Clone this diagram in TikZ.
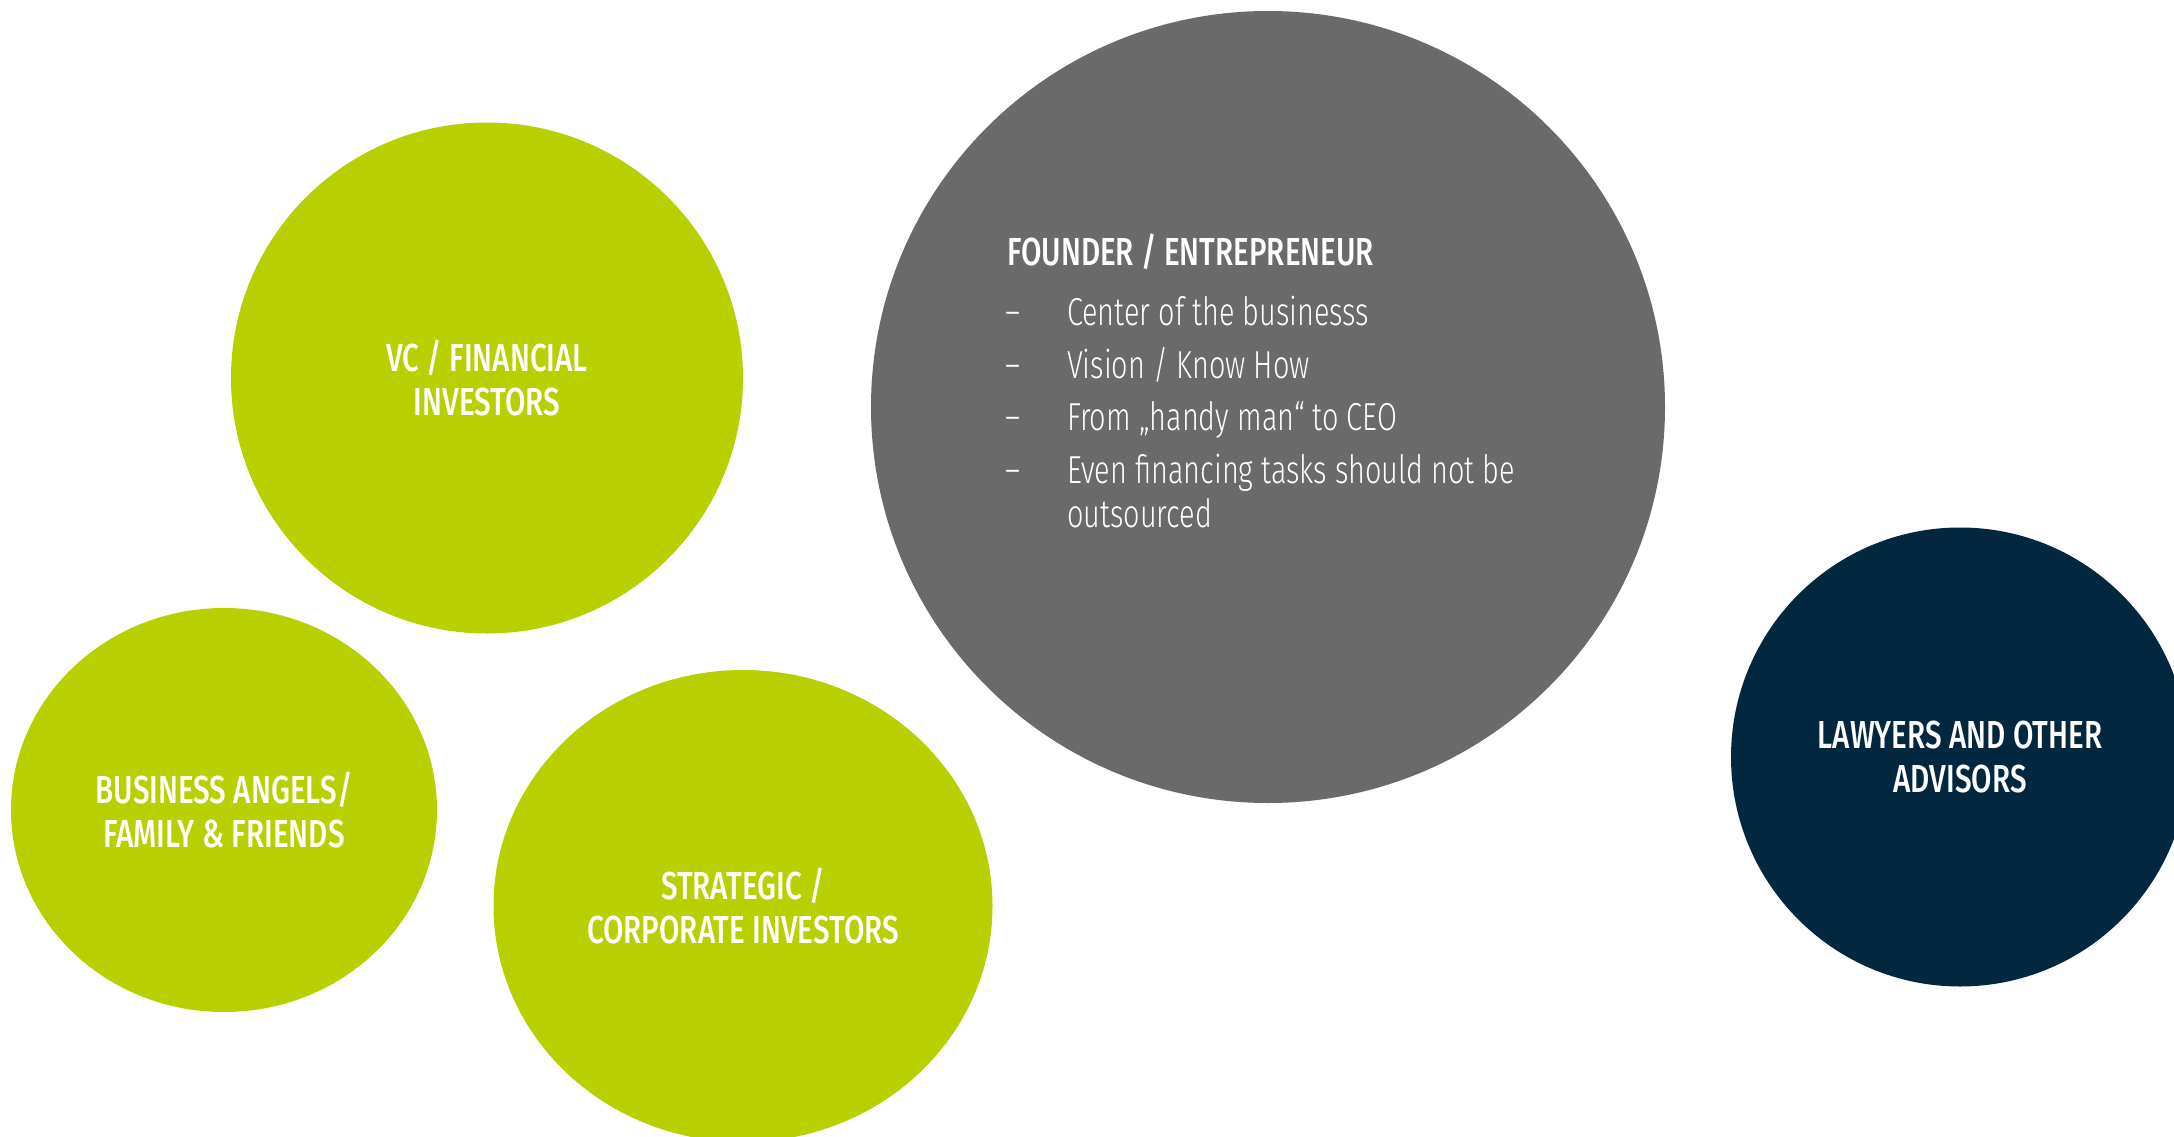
\documentclass[tikz,border=0pt]{standalone}
\usepackage{fontspec}
\setmainfont{Fira Sans Light}[FakeStretch=0.74,
  BoldFont={Fira Sans Medium}, BoldFeatures={FakeStretch=0.76}]
\usetikzlibrary{shapes.geometric}

\definecolor{lime}{HTML}{B8CF00}
\definecolor{slate}{HTML}{6A6A6A}
\definecolor{navy}{HTML}{02273E}

\newcommand{\bigtype}{\fontsize{39}{44}\selectfont}

\begin{document}
\begin{tikzpicture}[x=1pt, y=-1pt,
  bubble/.style={ellipse, inner sep=0pt, draw=none, text=white, align=center,
                 font=\bigtype\bfseries},
  limebubble/.style={bubble, fill=lime},
  line/.style={anchor=base west, inner sep=0pt, text=white, font=\bigtype},
  head/.style={line, font=\bigtype\bfseries}]

\useasboundingbox (0,0) rectangle (2174,1137);
\fill[white] (0,0) rectangle (2174,1137);

% central founder circle
\node[bubble, fill=slate, minimum width=794pt, minimum height=792pt] (founder) at (1268,407) {};

% investor circles
\node[limebubble, minimum width=512pt, minimum height=511pt] (vc) at (487,378)
  {VC / FINANCIAL\\INVESTORS};
\node[limebubble, minimum width=426pt, minimum height=404pt] (angels) at (224,810)
  {BUSINESS ANGELS/\\FAMILY \& FRIENDS};
\node[limebubble, minimum width=499pt, minimum height=472pt] (strategic) at (743,906)
  {STRATEGIC /\\CORPORATE INVESTORS};

% advisors circle
\node[bubble, fill=navy, minimum width=458pt, minimum height=459pt] (advisors) at (1960,757)
  {LAWYERS AND OTHER\\ADVISORS};

% founder description
\node[head] (ftitle) at (1007,265) {FOUNDER / ENTREPRENEUR};
\node[line] (d1) at (1005,325) {\textendash};
\node[line] (b1) at (1067,325) {Center of the businesss};
\node[line] (d2) at (1005,378) {\textendash};
\node[line] (b2) at (1067,378) {Vision / Know How};
\node[line] (d3) at (1005,430.5) {\textendash};
\node[line] (b3) at (1067,430.5) {From „handy man“ to CEO};
\node[line] (d4) at (1005,483) {\textendash};
\node[line] (b4) at (1067,483) {Even financing tasks should not be};
\node[line] (b5) at (1067,527.5) {outsourced};

\end{tikzpicture}
\end{document}
